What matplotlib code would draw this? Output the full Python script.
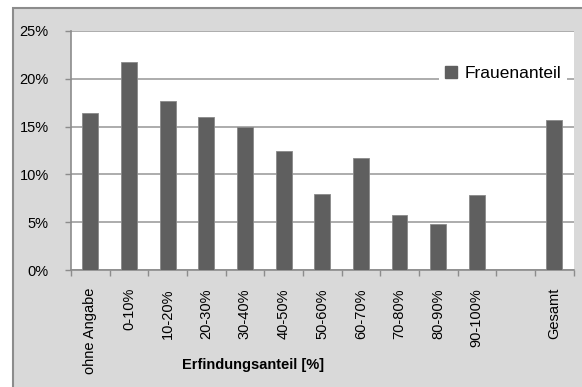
import matplotlib.pyplot as plt
import numpy as np
from matplotlib.lines import Line2D
from matplotlib.patches import Rectangle

# Frauenanteil je Erfindungsanteil-Klasse
categories = ["ohne Angabe", "0-10%", "10-20%", "20-30%", "30-40%", "40-50%",
              "50-60%", "60-70%", "70-80%", "80-90%", "90-100%", "", "Gesamt"]
frauenanteil = [16.4, 21.8, 17.7, 16.0, 15.0, 12.5, 8.0, 11.7, 5.8, 4.85, 7.8, np.nan, 15.7]
yticks = [0, 5, 10, 15, 20, 25]

plt.rcParams["font.family"] = ["Liberation Sans", "DejaVu Sans"]

fig = plt.figure(figsize=(5.82, 3.87), dpi=100)
fig.patch.set_facecolor("white")

# grauer Diagrammbereich
top = 1 - 8.5 / 387
fig.patches.append(Rectangle((13 / 582, -0.2), 1.2, top + 0.2,
                             transform=fig.transFigure, facecolor="#d9d9d9",
                             edgecolor="#8c8c8c", linewidth=1.5, zorder=-5))

ax = fig.add_axes([71 / 582, 1 - 270 / 387, (573.5 - 71) / 582, (270 - 31) / 387])
ax.set_facecolor("white")

x = np.arange(len(categories))
ax.bar(x, frauenanteil, width=0.41, color="#5f5f5f", edgecolor="#8a8a8a",
       linewidth=0.6, zorder=3)

ax.set_xlim(-0.5, len(categories) - 0.5)
ax.set_ylim(0, 25)
ax.set_yticks(yticks)
ax.set_yticklabels([f"{v}%" for v in yticks], fontsize=10.5)
ax.yaxis.grid(True, color="#a6a6a6", linewidth=1.3, zorder=1)
ax.set_axisbelow(True)

ax.set_xticks(x)
ax.set_xticklabels(categories, rotation=90, fontsize=10.5, va="top")
ax.set_xticks(np.arange(len(categories) + 1) - 0.5, minor=True)
ax.tick_params(axis="x", which="major", length=0, pad=13)
ax.tick_params(axis="x", which="minor", length=4, color="#8c8c8c", width=1)
ax.tick_params(axis="y", length=4, color="#8c8c8c", width=1, pad=12)

for side in ["top", "right"]:
    ax.spines[side].set_visible(False)
for side in ["left", "bottom"]:
    ax.spines[side].set_color("#8c8c8c")
    ax.spines[side].set_linewidth(1.2)

fig.text(253 / 582, 1 - 365 / 387, "Erfindungsanteil [%]", fontsize=10.5,
         fontweight="bold", ha="center", va="center")

handle = Line2D([], [], marker="s", linestyle="none", markersize=8,
                markerfacecolor="#5f5f5f", markeredgecolor="#5f5f5f")
ax.legend([handle], ["Frauenanteil"], loc="center", bbox_to_anchor=(503 / 582, 1 - 73 / 387),
          bbox_transform=fig.transFigure, fontsize=12.5, frameon=True, facecolor="white",
          edgecolor="none", framealpha=1, fancybox=False, handlelength=0.8,
          handletextpad=0.4, borderpad=0.3)

fig.savefig("out.png", dpi=100)
